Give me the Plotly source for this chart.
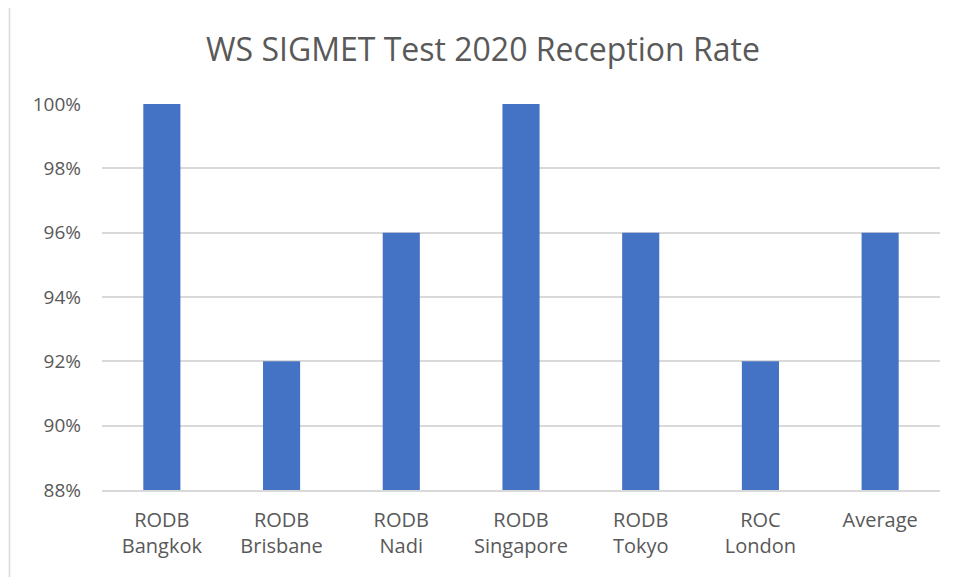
import plotly.graph_objects as go

categories = ["RODB<br>Bangkok", "RODB<br>Brisbane", "RODB<br>Nadi", "RODB<br>Singapore",
              "RODB<br>Tokyo", "ROC<br>London", "Average"]
reception_rate = [100, 92, 96, 100, 96, 92, 96]
y_ticks = [88, 90, 92, 94, 96, 98, 100]
y_tick_text = ["88%", "90%", "92%", "94%", "96%", "98%", "100%"]

OFF = 8  # browser body margin
W, H = 958 - OFF, 577 - OFF
L, T = 102 - OFF, 104 - OFF
R = W - (940 - OFF)
B = H - (490 - OFF)
pw, ph = W - L - R, H - T - B

def px_x(x):
    return (x - OFF - L) / pw

def px_y(y):
    return 1 - (y - OFF - T) / ph

fig = go.Figure(go.Bar(
    x=categories, y=reception_rate, marker_color="#4472C4", marker_line_width=0,
    width=0.31,
))

fig.update_layout(
    width=W, height=H,
    margin=dict(l=L, r=R, t=T, b=B),
    paper_bgcolor="white", plot_bgcolor="white",
    font=dict(family="'Open Sans', sans-serif", color="#595959", size=19),
    title=dict(text="WS SIGMET Test 2020 Reception Rate", x=0.5, xanchor="center",
               y=1 - (50 - OFF) / H, yanchor="middle", font=dict(size=32, color="#595959")),
    showlegend=False,
    shapes=[dict(type="rect", xref="paper", yref="paper",
                 x0=px_x(9.5), x1=px_x(975), y0=px_y(5.5), y1=px_y(600),
                 line=dict(color="#d9d9d9", width=1.5), layer="below")],
)
fig.update_xaxes(showgrid=False, showline=True, linecolor="#d9d9d9", linewidth=1.5,
                 ticks="", tickfont=dict(size=20, color="#595959"), ticklabelstandoff=11)
fig.update_yaxes(range=[88, 100], tickvals=y_ticks, ticktext=y_tick_text, showgrid=True,
                 gridcolor="#d9d9d9", gridwidth=1.5, zeroline=False, showline=False,
                 tickfont=dict(size=19, color="#595959"), ticklabelstandoff=20)

fig.write_html("out.html")
